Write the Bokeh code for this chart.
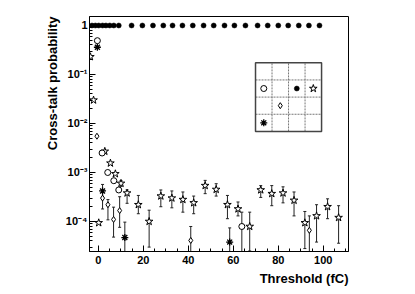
import math
from bokeh.plotting import figure
from bokeh.models import Range1d, LinearScale, SingleIntervalTicker, LogTicker, Title
from bokeh.embed import file_html
from bokeh.resources import INLINE

# ---------------- data ----------------
# filled circles: the injected pad itself
self_x = [-2.8, -1.3, 0.2, 1.9, 3.4, 5.1, 6.9, 9.1, 14.8, 19.6, 24.3, 28.9, 33.0, 37.4,
          42.0, 46.8, 51.3, 56.1, 60.5, 65.4, 70.8, 75.3, 80.0, 84.4, 89.1, 93.6, 98.3]
self_y = [1.0, 1.0, 1.0, 1.0, 1.0, 1.0, 1.0, 1.0, 1.0, 1.0, 1.0, 1.0, 1.0, 1.0,
          1.0, 1.0, 1.0, 1.0, 1.0, 1.0, 1.0, 1.0, 1.0, 1.0, 1.0, 1.0, 1.0]

# open circles
oc_x = [-0.4, 1.7, 4.2, 6.9, 9.1, 63.8]
oc_y = [0.49, 2.5e-3, 1.0e-3, 6.8e-4, 4.4e-4, 7.9e-5]
oc_hi = [None, None, None, None, None, 1.55e-4]
oc_lo = [None, None, None, None, None, 1e-5]

# open stars
st_x = [-3.5, -2.1, 0.2, 2.9, 5.4, 7.6, 10.1, 12.8, 17.8, 22.6, 27.8, 32.7, 37.6, 42.4,
        47.5, 52.4, 57.4, 62.1, 67.3, 72.2, 77.1, 82.1, 87.0, 91.8, 97.0, 101.9, 106.8]
st_y = [0.23, 0.030, 9.4e-5, 2.7e-3, 1.55e-3, 9.4e-4, 6.0e-4, 3.8e-4, 2.2e-4, 1.0e-4,
        3.3e-4, 3.0e-4, 2.8e-4, 2.4e-4, 5.4e-4, 4.5e-4, 2.2e-4, 1.8e-4, 7.9e-5, 4.4e-4,
        3.7e-4, 3.8e-4, 2.7e-4, 9.4e-5, 1.3e-4, 2.0e-4, 1.2e-4]
st_hi = [None, None, None, None, None, None, 6.8e-4, 4.4e-4, 3.4e-4, 1.7e-4,
         4.4e-4, 4.2e-4, 4.0e-4, 3.3e-4, 6.9e-4, 5.9e-4, 3.4e-4, 2.5e-4, 1.55e-4, 5.4e-4,
         5.4e-4, 5.1e-4, 4.0e-4, 1.6e-4, 2.2e-4, 2.9e-4, 2.1e-4]
st_lo = [None, None, None, None, None, None, 5.2e-4, 2.35e-4, 1.44e-4, 3.0e-5,
         2.0e-4, 1.9e-4, 1.55e-4, 1.44e-4, 3.7e-4, 3.3e-4, 1.14e-4, 1.3e-4, 2.5e-5, 3.1e-4,
         2.1e-4, 2.4e-4, 1.3e-4, 2.8e-5, 3.8e-5, 1.14e-4, 3.6e-5]

# small open diamonds
dm_x = [-0.6, 1.9, 4.3, 6.8, 9.5, 41.1, 93.8]
dm_y = [5.5e-3, 3.0e-4, 2.2e-4, 1.1e-4, 1.67e-4, 4.1e-5, 6.6e-5]
dm_hi = [None, 4.0e-4, 2.8e-4, 1.96e-4, 3.2e-4, 7.9e-5, 1.3e-4]
dm_lo = [None, 1.8e-4, 1.08e-4, 4.8e-5, 7.6e-5, 1e-5, 1e-5]

# asterisks
as_x = [-0.4, 1.9, 11.8, 58.4]
as_y = [0.36, 4.2e-4, 4.7e-5, 3.8e-5]
as_hi = [None, 5.7e-4, 9.7e-5, 7.4e-5]
as_lo = [None, 3.1e-4, 1e-5, 1e-5]

y_tick_values = [1.0, 0.1, 0.01, 0.001, 0.0001]
y_tick_labels = ["1", "10\u207b\u00b9", "10\u207b\u00b2", "10\u207b\u00b3", "10\u207b\u2074"]
x_title = "Threshold (fC)"
y_title = "Cross-talk probability"

# inset pad map (4 x 4 grid); (column, row-from-top) of each marker
grid_n = 4
pad_oc = (0, 1)
pad_self = (2, 1)
pad_st = (3, 1)
pad_dm = (1, 2)
pad_as = (0, 3)

# ---------------- figure ----------------
FONT = "Liberation Sans"
Y_LO, Y_HI = 2.44e-5, 1.526
p = figure(frame_width=259, frame_height=235,
           x_range=Range1d(-3.9, 111.2), y_range=Range1d(Y_LO, Y_HI),
           y_axis_type="log", output_backend="svg", toolbar_location=None,
           min_border_left=89, min_border_right=59, min_border_top=16, min_border_bottom=39,
           background_fill_color="white", border_fill_color="white")
p.extra_x_ranges = {"fx": Range1d(0, 1)}
p.extra_y_ranges = {"fy": Range1d(0, 1)}
p.extra_x_scales = {"fx": LinearScale()}
p.extra_y_scales = {"fy": LinearScale()}

p.grid.visible = False
p.outline_line_color = "black"
p.outline_line_width = 1

xa = p.xaxis[0]
xa.ticker = SingleIntervalTicker(interval=20, num_minor_ticks=4)
ya = p.yaxis[0]
ya.ticker = LogTicker(num_minor_ticks=10)
ya.major_label_overrides = {v: l for v, l in zip(y_tick_values, y_tick_labels)}
for ax in (xa, ya):
    ax.major_tick_in = 6
    ax.major_tick_out = 0
    ax.minor_tick_in = 3
    ax.minor_tick_out = 0
    ax.axis_line_color = "black"
    ax.major_tick_line_color = "black"
    ax.minor_tick_line_color = "black"
    ax.major_label_text_font = FONT
    ax.major_label_text_font_style = "bold"
    ax.major_label_text_font_size = "11px"
    ax.major_label_text_color = "black"
xa.major_label_standoff = 4
ya.major_label_standoff = 2

# ---------------- error bars ----------------
def add_errors(xs, his, los):
    bx, bhi, blo, cx, cy = [], [], [], [], []
    for x, h, l in zip(xs, his, los):
        if h is None:
            continue
        bx.append(x); bhi.append(h); blo.append(l)
        for v in (h, l):
            if Y_LO < v < Y_HI:
                cx.append(x); cy.append(v)
    p.segment(x0=bx, y0=blo, x1=bx, y1=bhi, line_color="#222222", line_width=1)
    p.scatter(x=cx, y=cy, marker="dash", size=3, line_color="#222222", line_width=1)

add_errors(st_x, st_hi, st_lo)
add_errors(oc_x, oc_hi, oc_lo)
add_errors(dm_x, dm_hi, dm_lo)
add_errors(as_x, as_hi, as_lo)

# ---------------- markers ----------------
open_circle = dict(size=6, line_color="black", fill_color="white", line_width=1)
star = dict(size=8, line_color="black", fill_color="white", line_width=1)
diamond = dict(size=6, line_color="black", fill_color="white", line_width=1)
aster = dict(size=7, line_color="black", line_width=1.3)
filled = dict(size=5, line_color="black", fill_color="black", line_width=0.5)

p.scatter(x=st_x, y=st_y, marker="star", **star)
p.scatter(x=oc_x, y=oc_y, marker="circle", **open_circle)
p.scatter(x=dm_x, y=dm_y, marker="diamond", **diamond)
p.scatter(x=as_x, y=as_y, marker="asterisk", **aster)
p.scatter(x=self_x, y=self_y, marker="circle", **filled)

# ---------------- inset pad map ----------------
IX0, IX1, IY0, IY1 = 0.641, 0.896, 0.511, 0.803
cw = (IX1 - IX0) / grid_n
ch = (IY1 - IY0) / grid_n
inner_x0, inner_y0, inner_x1, inner_y1 = [], [], [], []
for k in range(1, grid_n):
    inner_x0 += [IX0 + k * cw, IX0]
    inner_x1 += [IX0 + k * cw, IX1]
    inner_y0 += [IY0, IY0 + k * ch]
    inner_y1 += [IY1, IY0 + k * ch]
p.segment(x0=inner_x0, y0=inner_y0, x1=inner_x1, y1=inner_y1, line_color="#777777",
          line_width=1, line_dash="2 1", x_range_name="fx", y_range_name="fy")
p.quad(left=[IX0], right=[IX1], bottom=[IY0], top=[IY1], fill_color=None,
       line_color="#444444", line_width=1.5, x_range_name="fx", y_range_name="fy")

def cell(c):
    col, row = c
    return [IX0 + (col + 0.5) * cw], [IY1 - (row + 0.5) * ch]

for c, kind, stl in ((pad_oc, "circle", open_circle), (pad_self, "circle", filled),
                     (pad_st, "star", star), (pad_dm, "diamond", diamond),
                     (pad_as, "asterisk", aster)):
    cx, cy = cell(c)
    p.scatter(x=cx, y=cy, marker=kind, x_range_name="fx", y_range_name="fy", **stl)

# ---------------- axis titles ----------------
p.add_layout(Title(text=x_title, align="right", text_font=FONT, text_font_style="bold",
                   text_font_size="13px", text_color="black", standoff=4), "below")
p.add_layout(Title(text=y_title, align="right", text_font=FONT, text_font_style="bold",
                   text_font_size="13px", text_color="black", standoff=6), "left")

open("out.html", "w").write(file_html(p, INLINE))
